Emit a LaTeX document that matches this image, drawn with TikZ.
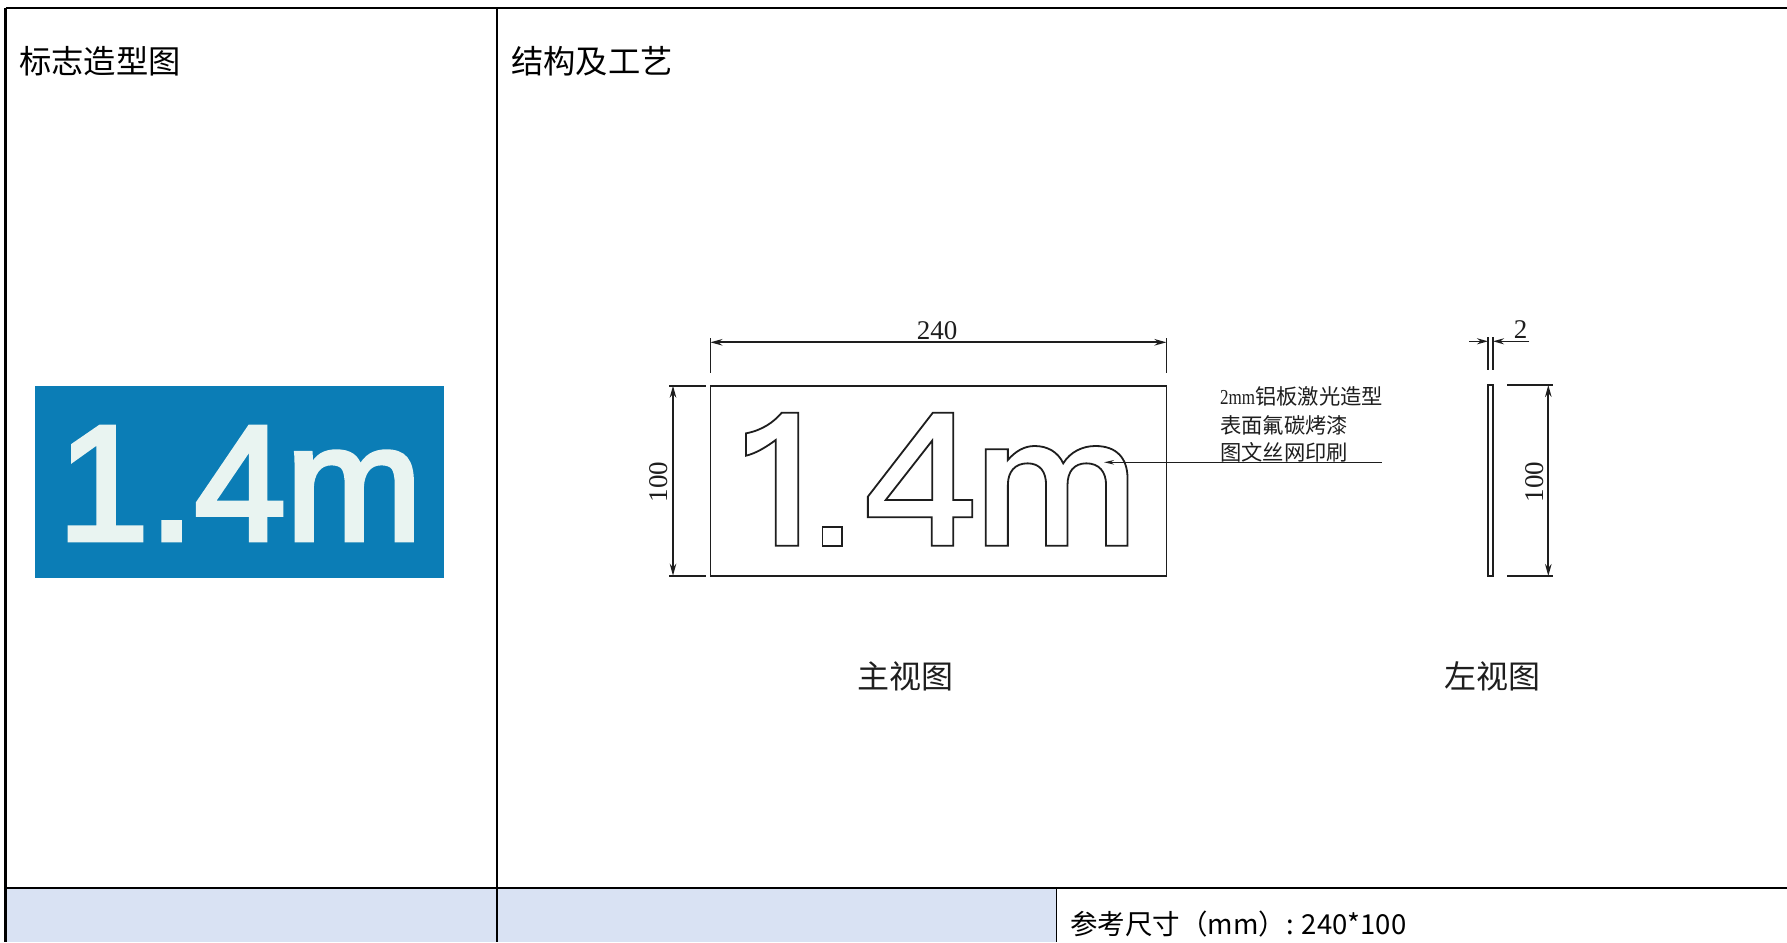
\documentclass[tikz,border=0pt]{standalone}
\usepackage{fontspec}
\setmainfont{Liberation Serif}
\newfontfamily\cjk{Noto Sans CJK SC}
\newfontfamily\signfont[FakeBold=3]{Liberation Sans}
\usetikzlibrary{arrows.meta}
\definecolor{cellblue}{HTML}{D9E2F3}
\definecolor{signblue}{HTML}{0B7DB6}
\definecolor{signtext}{HTML}{E9F4F1}
\definecolor{ink}{HTML}{1E1E1E}
\tikzset{
  tableline/.style={draw=black,line width=2.5pt},
  thinline/.style={draw=black,line width=1pt},
  cad/.style={draw=ink,line width=1.8pt,line join=miter},
  dimline/.style={draw=ink,line width=1.7pt,{Stealth[length=12pt,width=6.5pt]}-{Stealth[length=12pt,width=6.5pt]}},
  extline/.style={draw=ink,line width=1.6pt},
  leader/.style={draw=ink,line width=1.5pt,-{Stealth[length=10pt,width=4.5pt]}},
  dimtext/.style={inner sep=0pt,text=ink,font=\fontsize{27}{27}\selectfont},
  cjkhead/.style={inner sep=0pt,anchor=base west,text=black,font=\cjk\fontsize{32.3}{36}\selectfont},
  cjknote/.style={inner sep=0pt,anchor=base west,text=ink,font=\cjk\fontsize{21.3}{24}\selectfont},
  cjkview/.style={inner sep=0pt,text=ink,font=\cjk\fontsize{32}{36}\selectfont},
  cjkbody/.style={inner sep=0pt,anchor=base west,text=black,font=\cjk\fontsize{27.5}{30}\selectfont},
}
\begin{document}
\begin{tikzpicture}[x=1pt,y=-1pt]
\useasboundingbox (0,0) rectangle (1787,942);
\fill[white] (0,0) rectangle (1787,942);
% table
\fill[cellblue] (5,888) rectangle (1056.5,942);
\coordinate (tl) at (5.5,8);
\coordinate (tr) at (1787,8);
\coordinate (bl) at (5.5,942);
\coordinate (ml) at (5.5,888);
\coordinate (mr) at (1787,888);
\coordinate (ct) at (497,8);
\coordinate (cb) at (497,942);
\coordinate (dt) at (1056.5,888);
\coordinate (db) at (1056.5,942);
\draw[tableline] (tl) -- (tr);
\draw[tableline] (ml) -- (mr);
\draw[tableline] (tl) -- (bl);
\draw[tableline] (ct) -- (cb);
\draw[thinline] (dt) -- (db);
\node[cjkhead] (h1) at (19,74) {标志造型图};
\node[cjkhead] (h2) at (511,74) {结构及工艺};
\node[cjkbody] (size) at (1070,934) {参考尺寸（mm）: 240*100};
% sign
\fill[signblue] (35,386) rectangle (443.5,578);
\node[inner sep=0pt,anchor=base west,text=signtext,font=\signfont\fontsize{164}{164}\selectfont] (sign) at (57.5,540) {1.4m};
% front view
\coordinate (fa) at (710.4,385.7);
\coordinate (fb) at (1166.4,575.7);
\draw[cad] (fa) rectangle (fb);
\begin{scope}[shift={(640,300)},x=0.35714pt,y=-0.33333pt]
\draw[cad] (297,400) .. controls (345,390) and (375,365) .. (397,338) -- (443,338) -- (443,737) -- (380,737) -- (380,420) .. controls (355,440) and (325,460) .. (297,467) -- cycle;
\draw[cad] (511,680) rectangle (566,737);
\draw[cad] (820,338) -- (877,338) -- (877,600) -- (930,600) -- (930,652) -- (877,652) -- (877,737) -- (817,737) -- (817,652) -- (638,652) -- (638,590) -- cycle;
\draw[cad] (818,422) -- (818,600) -- (688,600) -- cycle;
\draw[cad] (968,737) -- (968,448) -- (1030,448) -- (1030,480) .. controls (1050,455) and (1075,438) .. (1105,438) .. controls (1140,438) and (1170,455) .. (1185,490) .. controls (1205,455) and (1240,438) .. (1275,438) .. controls (1335,438) and (1365,475) .. (1365,535) -- (1365,737) -- (1305,737) -- (1305,555) .. controls (1305,515) and (1285,490) .. (1250,490) .. controls (1215,490) and (1197,515) .. (1197,555) -- (1197,737) -- (1137,737) -- (1137,555) .. controls (1137,515) and (1120,490) .. (1085,490) .. controls (1050,490) and (1030,515) .. (1030,555) -- (1030,737) -- cycle;
\end{scope}
% 240 dimension
\coordinate (w1) at (710.4,342.3);
\coordinate (w2) at (1166.4,342.3);
\draw[dimline] (w1) -- (w2);
\coordinate (w1a) at (710.4,338);
\coordinate (w1b) at (710.4,373);
\coordinate (w2a) at (1166.4,338);
\coordinate (w2b) at (1166.4,373);
\draw[extline] (w1a) -- (w1b);
\draw[extline] (w2a) -- (w2b);
\node[dimtext] (t240) at (937,330.5) {240};
% 100 dimension left
\coordinate (h1a) at (673,385.7);
\coordinate (h1b) at (673,575.7);
\draw[dimline] (h1a) -- (h1b);
\coordinate (e1a) at (669,385.7);
\coordinate (e1b) at (706,385.7);
\coordinate (e2a) at (669,575.7);
\coordinate (e2b) at (706,575.7);
\draw[extline] (e1a) -- (e1b);
\draw[extline] (e2a) -- (e2b);
\node[dimtext,rotate=90] (t100a) at (659,482) {100};
% leader and note
\coordinate (l1) at (1381.7,462.3);
\coordinate (l2) at (1104,462.3);
\draw[leader] (l1) -- (l2);
\node[cjknote] (n1) at (1220,404.5) {\fontspec{Liberation Serif}\scalebox{0.8}[1]{2mm}\cjk 铝板激光造型};
\node[cjknote] (n2) at (1220,433) {表面氟碳烤漆};
\node[cjknote] (n3) at (1220,460) {图文丝网印刷};
\node[cjkview] (v1) at (905,676) {主视图};
\node[cjkview] (v2) at (1492,676) {左视图};
% side view
\coordinate (sa) at (1488,385);
\coordinate (sb) at (1493,576);
\draw[cad,line width=1.5pt] (sa) rectangle (sb);
\coordinate (s1a) at (1488,337.3);
\coordinate (s1b) at (1488,370);
\coordinate (s2a) at (1493,337.3);
\coordinate (s2b) at (1493,370);
\draw[extline,line width=1.3pt] (s1a) -- (s1b);
\draw[extline,line width=1.3pt] (s2a) -- (s2b);
\coordinate (d0) at (1469.3,341.3);
\coordinate (d1) at (1488,341.3);
\coordinate (d2) at (1493,341.3);
\coordinate (d3) at (1529.3,341.3);
\draw[extline,-{Stealth[length=11pt,width=6pt]}] (d0) -- (d1);
\draw[extline,-{Stealth[length=11pt,width=6pt]}] (d3) -- (d2);
\node[dimtext] (t2) at (1520.7,329.5) {2};
\coordinate (r1) at (1548.3,385);
\coordinate (r2) at (1548.3,576);
\draw[dimline] (r1) -- (r2);
\coordinate (r1a) at (1507.3,385);
\coordinate (r1b) at (1552.7,385);
\coordinate (r2a) at (1507.3,576);
\coordinate (r2b) at (1552.7,576);
\draw[extline] (r1a) -- (r1b);
\draw[extline] (r2a) -- (r2b);
\node[dimtext,rotate=90] (t100b) at (1534.7,482) {100};
\end{tikzpicture}
\end{document}
